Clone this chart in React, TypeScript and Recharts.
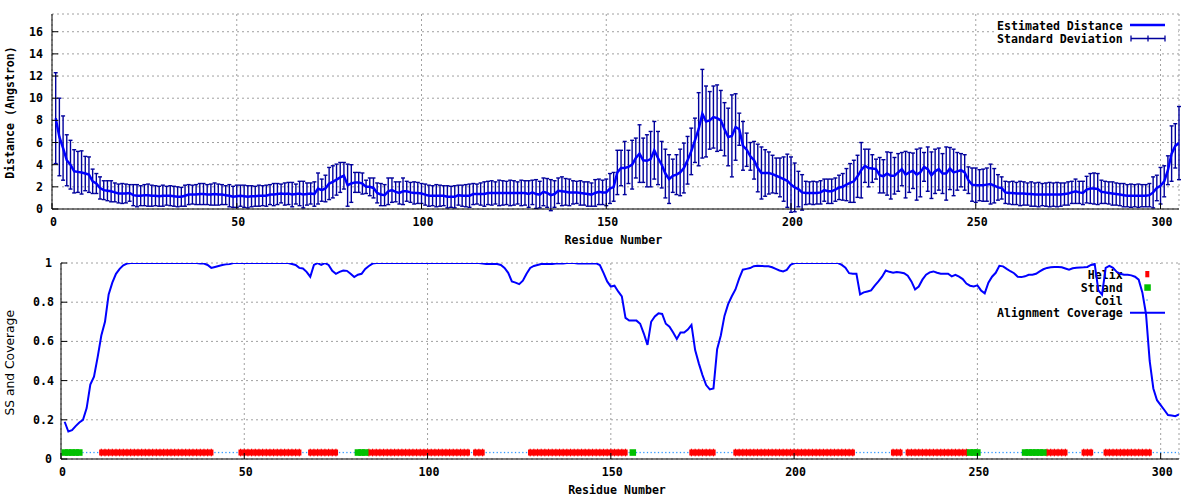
import React from 'react';
import { ComposedChart, Line, Scatter, XAxis, YAxis, CartesianGrid, ErrorBar, Customized } from 'recharts';

const MONO = "'DejaVu Sans Mono', monospace";
const textStyle: React.CSSProperties = { fontFamily: MONO, fontWeight: 700, fontSize: 11.6, fill: '#000' };

const residueTicks = [0, 50, 100, 150, 200, 250, 300];
const distanceTicks = [0, 2, 4, 6, 8, 10, 12, 14, 16];
const coverageTicks = [0, 0.2, 0.4, 0.6, 0.8, 1];

const distance = [
  8.2, 6.5, 5.5, 4.4, 4.0, 3.4, 3.35, 3.3, 3.2, 3.1,
  2.5, 2.3, 1.9, 1.7, 1.65, 1.6, 1.5, 1.4, 1.4, 1.4,
  1.45, 1.25, 1.2, 1.2, 1.25, 1.25, 1.2, 1.2, 1.15, 1.2,
  1.2, 1.2, 1.15, 1.1, 1.1, 1.2, 1.3, 1.3, 1.3, 1.35,
  1.35, 1.3, 1.3, 1.35, 1.3, 1.3, 1.25, 1.2, 1.1, 1.15,
  1.2, 1.15, 1.1, 1.15, 1.15, 1.2, 1.2, 1.2, 1.3, 1.3,
  1.35, 1.4, 1.35, 1.4, 1.3, 1.35, 1.4, 1.3, 1.35, 1.4,
  1.35, 1.85, 1.7, 1.85, 2.3, 2.45, 2.65, 2.85, 3.0, 2.15,
  2.3, 2.4, 2.4, 2.3, 2.0, 2.0, 1.9, 1.45, 1.3, 1.25,
  1.6, 1.7, 1.55, 1.45, 1.6, 1.6, 1.5, 1.45, 1.45, 1.4,
  1.3, 1.2, 1.2, 1.2, 1.2, 1.2, 1.1, 1.1, 1.1, 1.25,
  1.2, 1.2, 1.2, 1.35, 1.35, 1.35, 1.35, 1.45, 1.45, 1.45,
  1.45, 1.45, 1.45, 1.45, 1.45, 1.45, 1.45, 1.45, 1.35, 1.5,
  1.35, 1.3, 1.55, 1.45, 1.25, 1.35, 1.65, 1.6, 1.55, 1.5,
  1.5, 1.5, 1.45, 1.4, 1.35, 1.3, 1.45, 1.55, 1.5, 1.5,
  1.85, 2.0, 3.3, 3.7, 3.7, 3.8, 4.0, 4.6, 5.0, 4.4,
  4.35, 4.5, 5.3, 4.6, 4.0, 3.2, 2.7, 3.0, 3.1, 3.3,
  3.7, 4.4, 5.2, 6.2, 7.2, 8.6, 7.9, 8.0, 8.3, 8.2,
  8.0, 7.2, 6.5, 6.6, 7.4, 7.2, 5.7, 5.35, 4.75, 4.4,
  3.7, 3.25, 3.25, 3.25, 3.15, 3.0, 2.85, 2.7, 2.55, 2.2,
  1.95, 1.8, 1.5, 1.45, 1.45, 1.45, 1.45, 1.5, 1.7, 1.6,
  1.6, 1.75, 1.95, 2.0, 2.2, 2.35, 2.5, 2.95, 3.5, 3.9,
  3.7, 3.65, 3.6, 3.05, 2.95, 3.2, 3.0, 3.0, 3.3, 3.6,
  3.1, 3.3, 3.45, 3.1, 3.3, 3.8, 3.6, 3.05, 3.4, 3.6,
  3.2, 3.2, 3.65, 3.3, 3.4, 3.5, 3.3, 2.6, 2.2, 2.15,
  2.15, 2.15, 2.2, 2.25, 2.1, 1.95, 1.9, 1.5, 1.45, 1.45,
  1.4, 1.4, 1.4, 1.35, 1.35, 1.3, 1.3, 1.3, 1.3, 1.3,
  1.3, 1.3, 1.3, 1.35, 1.4, 1.5, 1.6, 1.5, 1.45, 1.75,
  1.85, 1.85, 1.8, 1.55, 1.5, 1.45, 1.4, 1.35, 1.3, 1.25,
  1.2, 1.2, 1.2, 1.2, 1.2, 1.2, 1.25, 1.5, 1.9, 2.1,
  2.5, 3.5, 5.0, 5.7, 5.95,
];

const stdDev = [
  4.1, 3.5, 2.9, 2.3, 2.2, 1.95, 1.85, 1.95, 1.55, 1.6,
  1.1, 0.9, 1.0, 0.85, 0.9, 0.95, 0.85, 0.85, 0.9, 0.85,
  0.75, 0.95, 1.0, 0.9, 0.95, 1.0, 0.95, 0.9, 0.9, 0.95,
  0.85, 0.9, 0.9, 0.9, 0.85, 0.95, 0.9, 0.85, 0.9, 0.95,
  0.95, 0.9, 0.95, 1.0, 0.95, 0.9, 0.85, 1.0, 0.95, 1.0,
  0.95, 1.0, 1.0, 0.95, 0.9, 0.95, 0.9, 0.95, 0.9, 1.0,
  0.95, 0.85, 1.0, 1.0, 1.1, 0.9, 1.1, 1.2, 1.0, 0.95,
  1.1, 1.4, 1.0, 1.2, 1.45, 1.45, 1.4, 1.35, 1.2, 1.9,
  1.7, 0.9, 0.9, 0.95, 0.6, 0.8, 0.9, 0.9, 1.0, 0.95,
  1.2, 1.1, 0.9, 1.0, 1.2, 0.9, 0.9, 1.0, 0.95, 0.9,
  0.95, 0.95, 0.9, 1.0, 0.95, 0.9, 1.0, 0.95, 1.0, 0.9,
  0.95, 1.0, 1.05, 0.95, 0.9, 1.0, 1.1, 1.05, 1.1, 1.0,
  1.15, 1.1, 1.05, 1.15, 1.1, 1.0, 1.15, 1.1, 1.2, 1.1,
  1.3, 1.2, 1.25, 1.3, 1.4, 1.2, 1.15, 1.3, 1.2, 1.2,
  1.05, 1.0, 1.1, 1.05, 1.1, 1.05, 1.2, 1.15, 1.1, 1.2,
  1.35, 1.3, 2.0, 1.6, 2.4, 1.5, 2.2, 1.8, 2.6, 2.0,
  2.35, 2.5, 2.6, 2.4, 2.1, 2.2, 2.2, 1.5, 1.8, 2.1,
  2.25, 2.15, 2.1, 2.0, 3.3, 4.0, 3.2, 2.6, 2.8, 3.0,
  2.7, 2.4, 2.6, 3.7, 3.0, 1.45, 2.2, 1.5, 1.25, 1.7,
  2.15, 2.35, 2.1, 1.9, 1.7, 1.6, 1.75, 2.0, 2.4, 2.5,
  2.2, 1.6, 1.6, 1.05, 1.0, 1.05, 1.0, 1.05, 1.0, 1.1,
  1.1, 1.05, 1.1, 1.2, 1.45, 1.75, 1.9, 1.9, 2.5, 1.5,
  1.7, 1.25, 0.9, 1.6, 1.5, 1.95, 2.1, 1.65, 1.7, 1.5,
  2.1, 1.8, 1.6, 2.3, 2.2, 1.3, 2.0, 2.1, 2.0, 1.9,
  1.8, 2.4, 1.9, 2.1, 1.7, 1.5, 1.6, 1.2, 1.5, 1.55,
  1.4, 1.45, 1.5, 1.8, 1.55, 1.15, 1.0, 1.0, 1.0, 1.05,
  1.0, 1.1, 1.05, 1.0, 1.1, 1.05, 1.1, 1.0, 1.05, 1.1,
  1.05, 1.1, 1.05, 1.0, 1.05, 1.0, 1.1, 1.0, 1.05, 1.2,
  1.35, 1.4, 1.4, 1.05, 1.0, 1.0, 1.05, 1.0, 1.0, 1.05,
  1.0, 1.05, 1.0, 1.05, 1.0, 1.0, 1.05, 1.4, 1.15, 1.65,
  1.4, 1.3, 2.5, 2.0, 3.3,
];

const coverage = [
  0.19, 0.14, 0.147, 0.168, 0.186, 0.2, 0.26, 0.38, 0.42, 0.52,
  0.63, 0.7, 0.84, 0.9, 0.945, 0.97, 0.988, 0.997, 1, 1,
  1, 1, 1, 1, 1, 1, 1, 1, 1, 1,
  1, 1, 1, 1, 1, 1, 1, 0.997, 0.997, 0.99,
  0.975, 0.98, 0.985, 0.99, 0.993, 0.995, 1, 1, 1, 1,
  1, 1, 1, 1, 1, 1, 1, 1, 1, 1,
  1, 1, 0.995, 0.99, 0.975, 0.972, 0.955, 0.93, 0.99, 1,
  0.99, 1, 0.99, 0.96, 0.945, 0.955, 0.962, 0.96, 0.945, 0.928,
  0.94, 0.945, 0.97, 0.985, 0.997, 1, 1, 1, 1, 1,
  1, 1, 1, 1, 1, 1, 1, 1, 1, 1,
  1, 1, 1, 1, 1, 1, 1, 1, 1, 1,
  1, 1, 1, 1, 0.997, 0.995, 0.995, 0.995, 0.995, 0.99,
  0.975, 0.95, 0.906, 0.9, 0.892, 0.91, 0.945, 0.975, 0.985, 0.99,
  0.995, 0.995, 0.995, 0.995, 0.998, 0.998, 0.998, 1, 1, 1,
  0.998, 0.998, 0.998, 0.998, 0.998, 0.998, 0.99, 0.95, 0.906, 0.88,
  0.884, 0.855, 0.83, 0.72, 0.706, 0.706, 0.706, 0.69, 0.64, 0.582,
  0.7, 0.727, 0.743, 0.74, 0.69, 0.675, 0.645, 0.612, 0.645, 0.645,
  0.66, 0.684, 0.556, 0.488, 0.428, 0.377, 0.355, 0.36, 0.56, 0.63,
  0.73, 0.79, 0.83, 0.865, 0.92, 0.966, 0.97, 0.974, 0.984, 0.986,
  0.985, 0.984, 0.983, 0.978, 0.97, 0.962, 0.957, 0.965, 0.99, 1,
  1, 1, 1, 1, 1, 1, 1, 1, 1, 1,
  1, 1, 0.99, 0.976, 0.948, 0.945, 0.945, 0.84, 0.85, 0.855,
  0.86, 0.885, 0.906, 0.93, 0.962, 0.955, 0.95, 0.954, 0.952, 0.948,
  0.935, 0.906, 0.865, 0.88, 0.915, 0.94, 0.952, 0.957, 0.95, 0.945,
  0.945, 0.945, 0.932, 0.94, 0.93, 0.918, 0.895, 0.884, 0.88, 0.886,
  0.86, 0.845, 0.9, 0.93, 0.95, 0.986, 0.983, 0.97, 0.958, 0.948,
  0.93, 0.928, 0.932, 0.94, 0.94, 0.945, 0.957, 0.968, 0.975, 0.978,
  0.98, 0.98, 0.978, 0.972, 0.966, 0.973, 0.976, 0.977, 0.978, 0.98,
  0.99, 0.995, 0.86, 0.838, 0.975, 0.985, 0.975, 0.955, 0.945, 0.94,
  0.94, 0.937, 0.93, 0.915, 0.85, 0.74, 0.5, 0.36, 0.3, 0.275,
  0.25, 0.224, 0.222, 0.218, 0.227,
];

const helixRanges: [number, number][] = [
  [11, 41], [49, 65], [68, 75], [84, 111], [113, 115], [128, 154], [172, 178],
  [184, 216], [227, 229], [231, 247], [269, 274], [279, 281], [285, 297],
];
const strandRanges: [number, number][] = [[1, 5], [81, 83], [156, 156], [248, 250], [263, 268]];
const ssLevel = 0.033;

const residues = distance.map((_, i) => i + 1);
const distanceData = residues.map((r, i) => ({ res: r, dist: distance[i], sd: stdDev[i] }));
const coverageData = residues.map((r, i) => ({ res: r, cov: coverage[i] }));
const inRanges = (r: number, ranges: [number, number][]) => ranges.some(([a, b]) => r >= a && r <= b);
const ssData = residues.map((r) => ({
  res: r,
  y: ssLevel,
  ss: inRanges(r, strandRanges) ? 'E' : inRanges(r, helixRanges) ? 'H' : 'C',
}));
const helixPts = ssData.filter((d) => d.ss === 'H');
const strandPts = ssData.filter((d) => d.ss === 'E');
const coilPts = ssData.filter((d) => d.ss === 'C');

const BottomTick = (props: any) => {
  const { x, y, payload } = props;
  return (
    <g>
      <line x1={x} y1={y} x2={x} y2={y - 6} stroke="#000" strokeWidth={1} />
      <text x={x + 1.5} y={y + 13} dy="0.35em" textAnchor="middle" style={textStyle}>
        {String(payload.value)}
      </text>
    </g>
  );
};
const LeftTick = (props: any) => {
  const { x, y, payload } = props;
  const s = String(payload.value);
  return (
    <g>
      <line x1={x} y1={y} x2={x + 6} y2={y} stroke="#000" strokeWidth={1} />
      <text x={x - (s.length > 1 && s.includes('.') ? 7 : 9)} y={y} dy="0.35em" textAnchor="end" style={textStyle}>
        {s}
      </text>
    </g>
  );
};
const TopTick = (props: any) => {
  const { x, y } = props;
  return <line x1={x} y1={y} x2={x} y2={y + 6} stroke="#000" strokeWidth={1} />;
};
const RightTick = (props: any) => {
  const { x, y } = props;
  return <line x1={x} y1={y} x2={x - 6} y2={y} stroke="#000" strokeWidth={1} />;
};

const TopKey = () => (
  <g>
    <rect x={995} y={15} width={183} height={30} fill="#fff" />
    <text x={1122.7} y={26} dy="0.35em" textAnchor="end" style={textStyle}>Estimated Distance</text>
    <line x1={1130} y1={25} x2={1165} y2={25} stroke="#0000ff" strokeWidth={2.5} />
    <text x={1122.7} y={39} dy="0.35em" textAnchor="end" style={textStyle}>Standard Deviation</text>
    <line x1={1131} y1={38.5} x2={1165} y2={38.5} stroke="#00009c" strokeWidth={1.3} />
    <line x1={1131} y1={35.5} x2={1131} y2={41.5} stroke="#00009c" strokeWidth={1.3} />
    <line x1={1165} y1={35.5} x2={1165} y2={41.5} stroke="#00009c" strokeWidth={1.3} />
    <line x1={1148} y1={35.5} x2={1148} y2={41.5} stroke="#00009c" strokeWidth={1.3} />
    <text x={10} y={112.5} dy="0.35em" textAnchor="middle" transform="rotate(-90 10 112.5)" style={textStyle}>
      Distance (Angstron)
    </text>
    <text x={613.3} y={240} dy="0.35em" textAnchor="middle" style={textStyle}>Residue Number</text>
  </g>
);

const BottomKey = () => (
  <g>
    <rect x={997} y={14} width={181} height={56} fill="#fff" />
    <text x={1122.7} y={25} dy="0.35em" textAnchor="end" style={textStyle}>Helix</text>
    <rect x={1145.3} y={21} width={4} height={6.3} fill="#ff0000" />
    <text x={1122.7} y={37.7} dy="0.35em" textAnchor="end" style={textStyle}>Strand</text>
    <rect x={1144.3} y={34.3} width={6.5} height={6.5} fill="#00c000" />
    <text x={1122.7} y={50.7} dy="0.35em" textAnchor="end" style={textStyle}>Coil</text>
    <rect x={1146.4} y={49.4} width={1.3} height={1.3} fill="#3399ff" />
    <text x={1122.7} y={63.3} dy="0.35em" textAnchor="end" style={textStyle}>Alignment Coverage</text>
    <line x1={1130} y1={62.8} x2={1165} y2={62.8} stroke="#0000ff" strokeWidth={2} />
    <text
      x={10}
      y={112.8}
      dy="0.35em"
      textAnchor="middle"
      transform="rotate(-90 10 112.8)"
      style={{ fontFamily: "'DejaVu Sans', sans-serif", fontSize: 12.3, fill: '#000' }}
    >
      SS and Coverage
    </text>
    <text x={617} y={240} dy="0.35em" textAnchor="middle" style={textStyle}>Residue Number</text>
  </g>
);

const HelixMark = (props: any) => {
  const { cx, cy } = props;
  if (cx == null || cy == null) return null;
  return (
    <g>
      <rect x={cx - 2.15} y={cy - 3} width={4.3} height={6} fill="#ff0000" />
      <rect x={cx - 0.6} y={cy - 3.8} width={1.2} height={7.6} fill="#ff0000" />
    </g>
  );
};
const StrandMark = (props: any) => {
  const { cx, cy } = props;
  if (cx == null || cy == null) return null;
  return <rect x={cx - 3.25} y={cy - 3.3} width={6.5} height={6.6} fill="#00c000" />;
};
const CoilMark = (props: any) => {
  const { cx, cy } = props;
  if (cx == null || cy == null) return null;
  return <rect x={cx - 0.65} y={cy - 0.65} width={1.3} height={1.3} fill="#3399ff" />;
};

const axisCommon = {
  tickSize: 0,
  tickMargin: 0,
  tickLine: false,
  axisLine: { stroke: '#000', strokeWidth: 1 },
  interval: 0 as const,
  allowDataOverflow: true,
};

export default function App() {
  return (
    <div style={{ position: 'absolute', left: 0, top: 0, width: 1200, height: 500, background: '#fff' }}>
      <ComposedChart width={1200} height={250} data={distanceData} margin={{ top: 14, right: 21, bottom: 11, left: 0 }}>
        <CartesianGrid stroke="#a0a0a0" strokeDasharray="2 3" />
        <Customized component={TopKey} />
        <Line dataKey="dist" stroke="none" dot={false} activeDot={false} isAnimationActive={false}>
          <ErrorBar dataKey="sd" width={2} stroke="#00009c" strokeWidth={1.4} direction="y" isAnimationActive={false} />
        </Line>
        <Line dataKey="dist" stroke="#0000ff" strokeWidth={2.5} dot={false} activeDot={false} isAnimationActive={false} />
        <XAxis dataKey="res" type="number" domain={[0, 305]} ticks={residueTicks} height={30} tick={BottomTick} {...axisCommon} />
        <XAxis xAxisId="top" orientation="top" type="number" domain={[0, 305]} ticks={residueTicks} height={0} tick={TopTick} {...axisCommon} />
        <YAxis type="number" domain={[0, 17.6]} ticks={distanceTicks} width={52} tick={LeftTick} {...axisCommon} />
        <YAxis yAxisId="right" orientation="right" type="number" domain={[0, 17.6]} ticks={distanceTicks} width={0} tick={RightTick} {...axisCommon} />
      </ComposedChart>
      <ComposedChart width={1200} height={250} data={coverageData} margin={{ top: 13, right: 21, bottom: 11, left: 0 }}>
        <CartesianGrid stroke="#a0a0a0" strokeDasharray="2 3" />
        <Customized component={BottomKey} />
        <Scatter data={coilPts} dataKey="y" shape={CoilMark} isAnimationActive={false} />
        <Scatter data={helixPts} dataKey="y" shape={HelixMark} isAnimationActive={false} />
        <Scatter data={strandPts} dataKey="y" shape={StrandMark} isAnimationActive={false} />
        <Line dataKey="cov" stroke="#0000ff" strokeWidth={2} dot={false} activeDot={false} isAnimationActive={false} />
        <XAxis dataKey="res" type="number" domain={[0, 305]} ticks={residueTicks} height={30} tick={BottomTick} {...axisCommon} />
        <XAxis xAxisId="top" orientation="top" type="number" domain={[0, 305]} ticks={residueTicks} height={0} tick={TopTick} {...axisCommon} />
        <YAxis type="number" domain={[0, 1]} ticks={coverageTicks} width={61} tick={LeftTick} {...axisCommon} />
        <YAxis yAxisId="right" orientation="right" type="number" domain={[0, 1]} ticks={coverageTicks} width={0} tick={RightTick} {...axisCommon} />
      </ComposedChart>
    </div>
  );
}
